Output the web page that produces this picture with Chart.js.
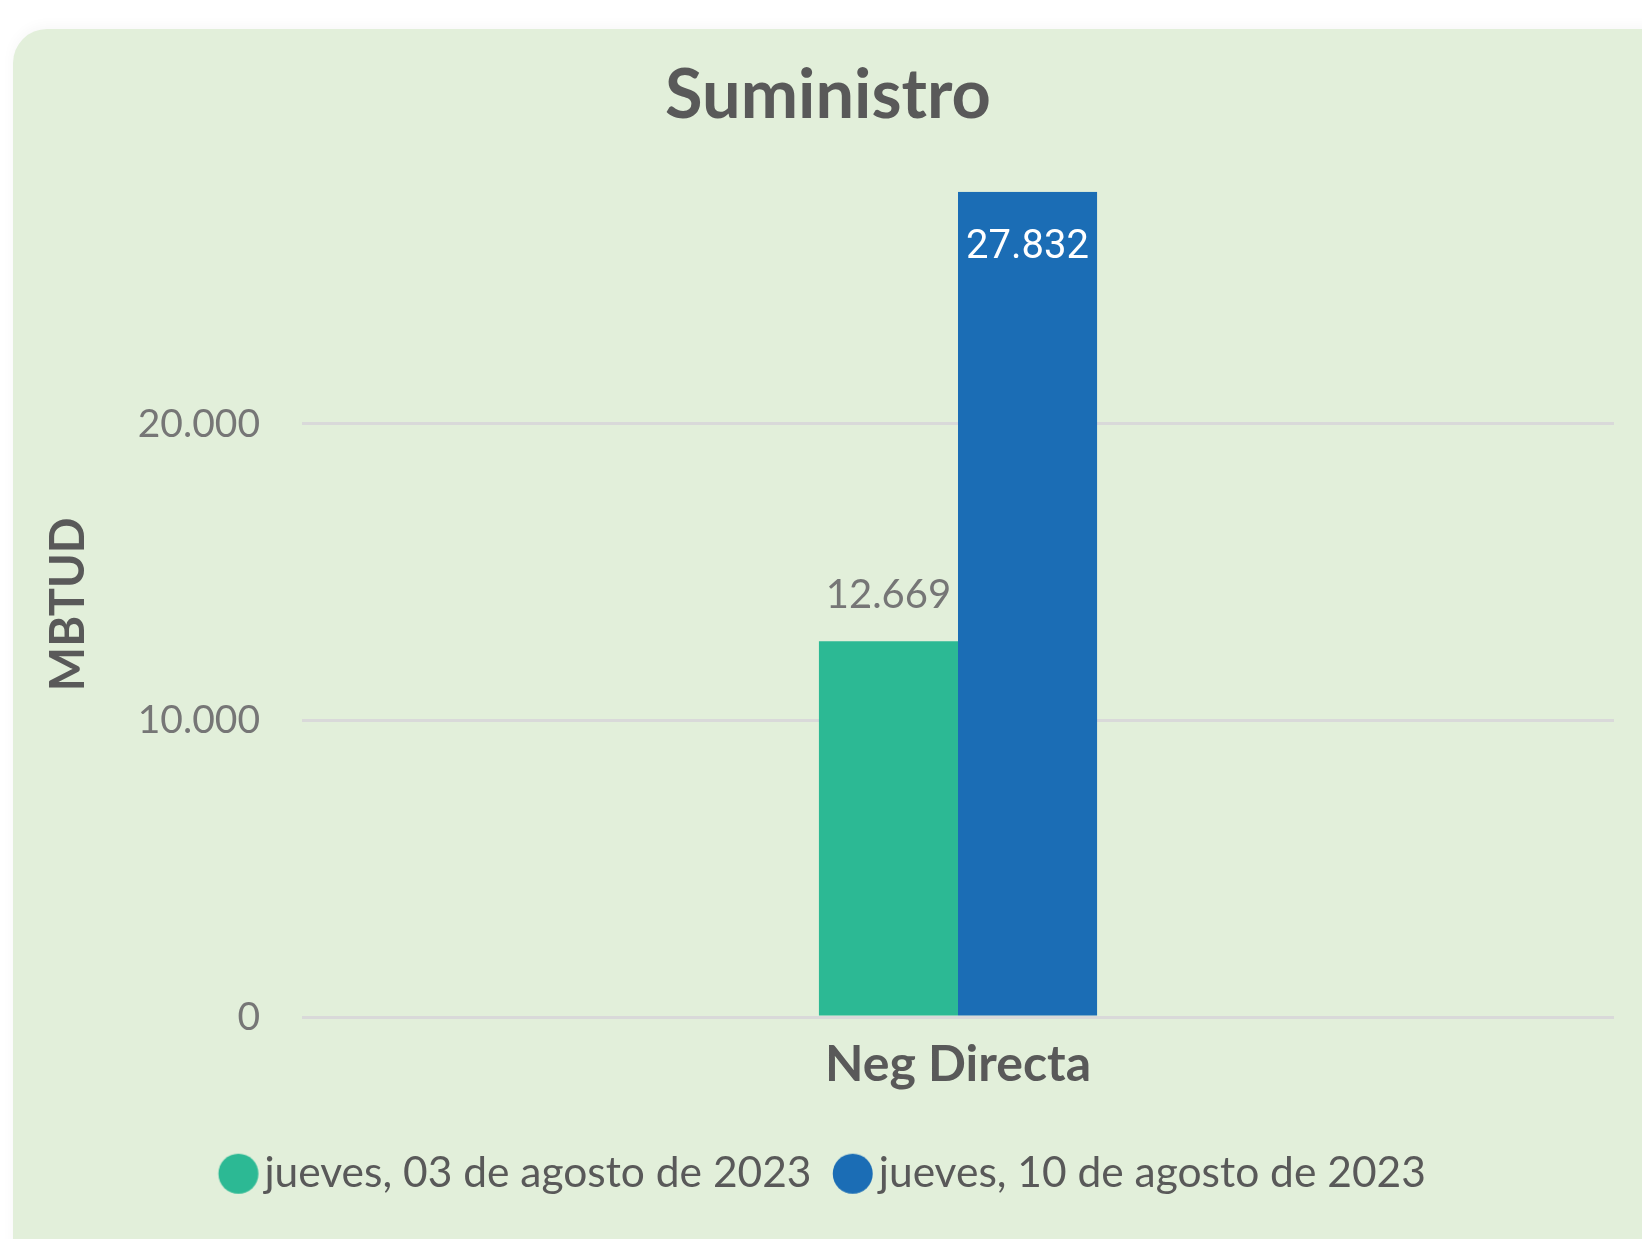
<!DOCTYPE html>
<html lang="es">
<head>
<meta charset="utf-8">
<title>Suministro</title>
<script src="https://cdn.jsdelivr.net/npm/chart.js@4.4.0/dist/chart.umd.min.js"></script>
<style>
  html, body { margin: 0; padding: 0; background: #fff; overflow: hidden; }
  .card {
    position: absolute; left: 13px; top: 29px; width: 1690px; height: 1280px;
    background: #e2efda; border-radius: 34px;
    box-shadow: 0 -3px 14px rgba(0, 0, 0, 0.035);
  }
  #chart { position: absolute; left: 0; top: 0; }
</style>
</head>
<body>
<div class="card"></div>
<canvas id="chart" width="1642" height="1239"></canvas>
<script>
// data
const categories = ['Neg Directa'];
const seriesNames = ['jueves, 03 de agosto de 2023', 'jueves, 10 de agosto de 2023'];
const semana1 = [12669];
const semana2 = [27832];
const seriesColors = ['#2cb994', '#1b6db5'];
const yTicks = [0, 10000, 20000];

// 12669 -> "12.669"
function fmt(v) {
  return String(Math.round(v)).replace(/\B(?=(\d{3})+(?!\d))/g, '.');
}

// round dots for the legend, nudged so they sit close to the text
const legendDots = seriesColors.map(c => {
  const cv = document.createElement('canvas');
  cv.width = 72; cv.height = 42;
  const g = cv.getContext('2d');
  g.fillStyle = c;
  g.beginPath();
  g.arc(37.75, 21, 20, 0, Math.PI * 2);
  g.fill();
  return cv;
});

// value labels on the bars
const valueLabels = {
  id: 'valueLabels',
  afterDatasetsDraw(chart) {
    const ctx = chart.ctx;
    chart.data.datasets.forEach((ds, i) => {
      chart.getDatasetMeta(i).data.forEach((bar, j) => {
        const txt = fmt(ds.data[j]);
        ctx.save();
        ctx.textAlign = 'center';
        ctx.textBaseline = 'alphabetic';
        if (ds.labelInside) {
          ctx.font = '40px Roboto';
          ctx.fillStyle = '#ffffff';
          ctx.fillText(txt, bar.x, bar.y + 66);
        } else {
          ctx.font = '40px Lato';
          ctx.fillStyle = '#767676';
          ctx.fillText(txt, bar.x, bar.y - 33);
        }
        ctx.restore();
      });
    });
  }
};

function draw() {
  new Chart(document.getElementById('chart'), {
    type: 'bar',
    data: {
      labels: categories,
      datasets: [
        { label: seriesNames[0], data: semana1, backgroundColor: seriesColors[0], labelInside: false },
        { label: seriesNames[1], data: semana2, backgroundColor: seriesColors[1], labelInside: true }
      ]
    },
    options: {
      responsive: false,
      animation: false,
      datasets: { bar: { categoryPercentage: 0.212, barPercentage: 1 } },
      layout: { padding: { left: 14, right: 0, top: 0, bottom: 34 } },
      scales: {
        x: {
          grid: { display: false, drawTicks: false },
          border: { display: false },
          ticks: { padding: 17.5, color: '#595959', font: { family: 'Lato', size: 50, weight: 'bold' } },
          afterFit(s) { s.height = 102.5; }
        },
        y: {
          min: 0,
          max: Math.max(...semana1, ...semana2),
          grid: { color: '#d9d9d9', lineWidth: 3, drawTicks: false },
          border: { display: false },
          afterBuildTicks(s) { s.ticks = yTicks.map(v => ({ value: v })); },
          ticks: {
            padding: 42,
            color: '#767676', font: { family: 'Lato', size: 39 },
            callback: v => fmt(v)
          },
          title: {
            display: true, text: 'MBTUD', color: '#595959',
            font: { family: 'Lato', size: 47, weight: 'bold' },
            padding: { top: 27, bottom: 0 }
          },
          afterFit(s) { s.width = 288; }
        },
        // empty strip on the right so the grid stops short of the card edge
        yRight: {
          position: 'right',
          grid: { display: false, drawTicks: false },
          border: { display: false },
          ticks: { display: false },
          afterFit(s) { s.width = 28; }
        }
      },
      plugins: {
        title: {
          display: true,
          text: 'Suministro',
          color: '#595959',
          font: { family: 'Lato', size: 68.5, weight: 'bold' },
          padding: { top: 54.5, bottom: 55 }
        },
        legend: {
          position: 'bottom',
          labels: {
            usePointStyle: true,
            boxWidth: 13,
            padding: 33,
            color: '#595959',
            font: { family: 'Lato', size: 42.5 },
            generateLabels(chart) {
              const items = Chart.defaults.plugins.legend.labels.generateLabels(chart);
              items.forEach((it, i) => { it.pointStyle = legendDots[i]; });
              return items;
            }
          }
        },
        tooltip: { enabled: false }
      }
    },
    plugins: [valueLabels]
  });
}

Promise.all([
  document.fonts.load('bold 68px Lato'),
  document.fonts.load('42px Lato'),
  document.fonts.load('40px Roboto')
]).then(draw, draw);
</script>
</body>
</html>
